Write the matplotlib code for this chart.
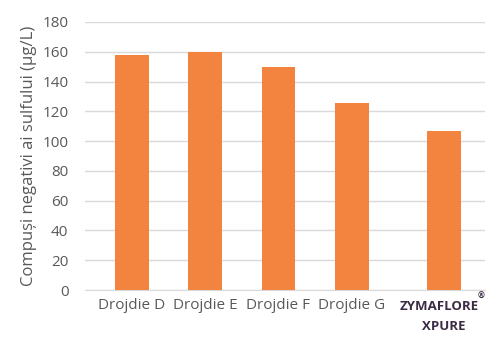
import matplotlib.pyplot as plt
import matplotlib.transforms as mtransforms

plt.rcParams['font.family'] = ['Open Sans', 'DejaVu Sans']

categories = ['Drojdie D', 'Drojdie E', 'Drojdie F', 'Drojdie G', '']
positions = [0, 1, 2, 3, 4.26]
values = [158, 159.5, 150, 125.5, 106.5]
yticks = [0, 20, 40, 60, 80, 100, 120, 140, 160, 180]
brand_line1 = 'ZYMAFLORE'
brand_line2 = 'XPURE'

fig = plt.figure(figsize=(4.86, 3.38), dpi=100)
ax = fig.add_axes([0.175, 0.142, 0.823, 0.793])

ax.bar(positions, values, width=0.46, color='#F2843F', zorder=3)

ax.set_xlim(-0.64, 4.82)
ax.set_ylim(0, 180)
ax.set_yticks(yticks)
ax.grid(axis='y', color='#d9d9d9', linewidth=1, zorder=0)
ax.set_xticks(positions)
ax.set_xticklabels(categories)

for spine in ['top', 'right', 'left']:
    ax.spines[spine].set_visible(False)
ax.spines['bottom'].set_color('#d9d9d9')
ax.tick_params(axis='both', length=0, labelsize=11, labelcolor='#595959')
ax.tick_params(axis='x', pad=6)
ax.tick_params(axis='y', pad=12)

# brand label drawn by hand so the (R) mark fits inside the figure
trans = mtransforms.blended_transform_factory(ax.transData, fig.transFigure)
ax.text(positions[-1] - 0.07, 1 - 307 / 338, brand_line1, transform=trans,
        ha='center', va='center', fontsize=9.5, fontweight='bold',
        color='#3b2b45', clip_on=False)
ax.text(positions[-1] + 0.5, 1 - 296 / 338, '®', transform=trans,
        ha='center', va='center', fontsize=6, fontweight='bold',
        color='#3b2b45', clip_on=False)
ax.text(positions[-1], 1 - 327 / 338, brand_line2, transform=trans,
        ha='center', va='center', fontsize=9.5, fontweight='bold',
        color='#3b2b45', clip_on=False)

ax.set_ylabel('Compuși negativi ai sulfului (µg/L)', fontsize=12, color='#595959', labelpad=4)

fig.savefig('out.png', dpi=100)
